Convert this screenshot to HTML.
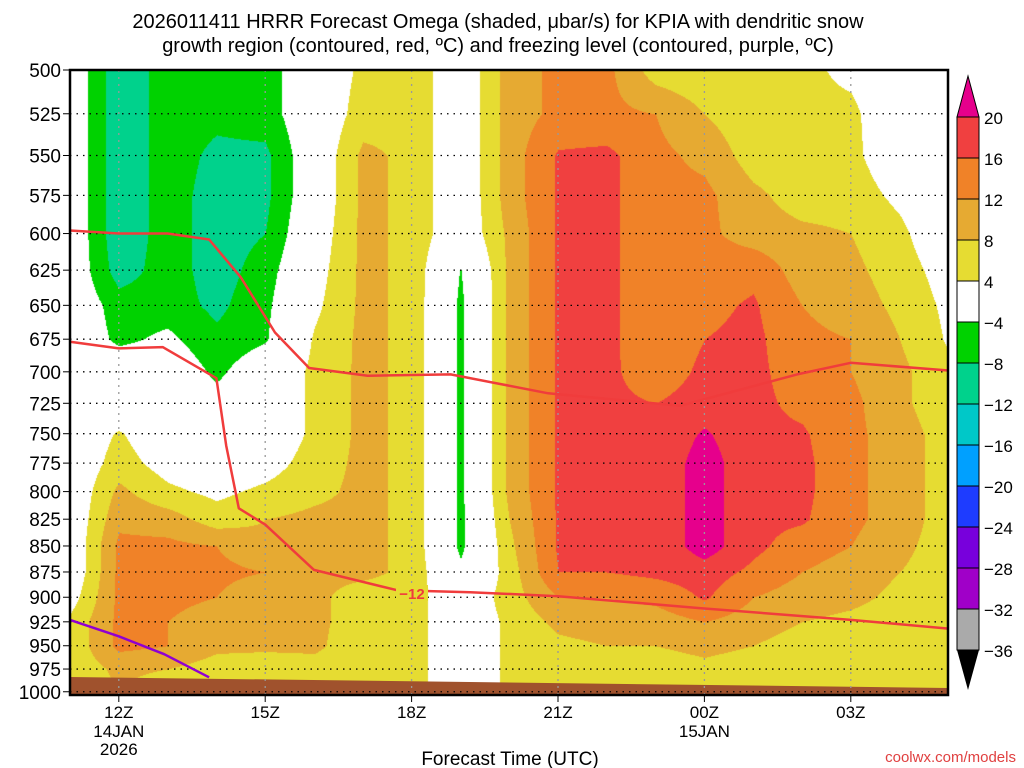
<!DOCTYPE html>
<html><head><meta charset="utf-8">
<style>
body{margin:0;background:#fff;width:1024px;height:768px;overflow:hidden;position:relative;font-family:"Liberation Sans",sans-serif;}
#cv{position:absolute;left:70px;top:70px;}
#ov{position:absolute;left:0;top:0;}
</style></head><body>
<canvas id="cv" width="878" height="622"></canvas>
<svg id="ov" width="1024" height="768">
<g font-size="20" text-anchor="middle" fill="#000">
<text x="498" y="28">2026011411 HRRR Forecast Omega (shaded, μbar/s) for KPIA with dendritic snow</text>
<text x="498" y="52">growth region (contoured, red, ºC) and freezing level (contoured, purple, ºC)</text>
</g>
<g id="grid"></g>
<g id="lines"></g>
<g id="axes"></g>
<g id="cbar"></g>
<text x="510" y="765" font-size="19" text-anchor="middle">Forecast Time (UTC)</text>
<text x="1016" y="762" font-size="15" text-anchor="end" fill="#e04040">coolwx.com/models</text>
</svg>
<script>
// times: hours after 11Z (0..18); levels: 500..1000 every 25 mb
const hours=[0,1,2,3,4,5,6,7,8,9,10,11,12,13,14,15,16,17,18];
const levels=[500,525,550,575,600,625,650,675,700,725,750,775,800,825,850,875,900,925,950,975,1000];
const omega=[
[0,0,0,0,0,0,0,0,0,0,0,0,0,0,0,0,2,5,5,5,5],
[-11,-11,-11,-11,-11,-10,-6,-5,0,0,4.5,6,9,11,13,13,13,13,13,9,8],
[-6,-6,-6,-6,-6,-6,-6,-3,0,0,0,2,5,10,13,13,13,12,12,8,5],
[-6,-7,-9,-10,-10,-10,-9,-7,-5,-2,0,0,3,6,12,13,12,10,9,6,5],
[-6,-6,-9,-9,-8,-6,-5,-4.5,0,0,0,2,5,8,9,12,9,9,9,5,5],
[0,0,0,0,1,2,3,4.5,5,5,5,6,7,9,9,9,9,9,9,6,5],
[5,6,9,9,9,9,9,9,9,9,9,9,9,9,9,9,6,6,5,5,5],
[7,7,7,7,7,7,7,7,7,7,7,7,7,7,7,7,6,6,6,6,6],
[0,0,0,0,0,-4.2,-5,-5,-5,-5,-5,-5,-5,-5,-5,-3,0,0,0,0,0],
[10,10,10,10,9,9,9,9,9,9,9,9,9,8,7,6,6,5,5,5,5],
[13,13,16.5,16.5,16.5,16.5,16.5,16.5,16.5,16.5,16.5,16.5,16.5,16.5,16.5,16,12,9,7,6,6],
[13,13,17,17,17,17,17,17,17,17,17,17,17,17,17,16,12,10,8,6,6],
[6,12,13,13,13,13,13,13,13.5,16,17,17,17,17,17,17,13,10,8,6,6],
[5,8,11,13,13,14,15,16,17,18,20.5,22,22,22,22,18,16.5,12,9,7,6],
[5,5,6,9,10,15,16.5,17,17,17,17,17,17,17,17,15,12,10,8,6,5],
[5,5,5,6,9,10,12,13,14,15,16.5,17,17,16.5,14,12,10,8,6,5,5],
[3,5,5,6,8,9,10,12,12,13,13,13,13,13,12,10,9,7,6,5,5],
[0,0,1,3,5,6,7,8,9,9,10,10,10,10,9,8,7,6,5,5,5],
[0,0,0,0,0,2,3,3.5,5,5,6,6,6,6,6,6,5,5,5,5,5]
];
const dgzUpper=[[0,598],[1,600],[2,600],[2.85,604],[3.5,630],[4.2,670],[4.9,697],[6.1,703],[7.8,702],[9.8,717],[12.5,727],[14.9,702],[16,693],[18,699]];
const dgzLower=[[0,677],[1,682],[1.9,681],[3,705],[3.2,760],[3.46,815],[4,830],[5,873],[6.7,893],[8.2,895],[10,899],[12.9,911],[16,923],[18,932]];
const freezing=[[0,923],[1,940],[1.93,959],[2.85,984]];
const xTickHours=[1,4,7,10,13,16];
const xTickLabels=["12Z","15Z","18Z","21Z","00Z","03Z"];
const cbLevels=[20,16,12,8,4,-4,-8,-12,-16,-20,-24,-28,-32,-36];
const cbColors=["#f04040","#f08228","#e6aa32","#e6dc32","#ffffff","#00d200","#00d28c","#00c8c8","#00a0ff","#1e3cff","#7800dc","#a000c8","#aaaaaa"];

const X=h=>70+h*48.8;
const Y=p=>70+897*Math.log(p/500);
function color(v){
  if(v>=20)return[230,0,140];if(v>=16)return[240,64,64];if(v>=12)return[240,130,40];
  if(v>=8)return[230,170,50];if(v>=4)return[230,220,50];if(v>-4)return[255,255,255];
  if(v>-8)return[0,210,0];if(v>-12)return[0,210,140];if(v>-16)return[0,200,200];
  if(v>-20)return[0,160,255];if(v>-24)return[30,60,255];if(v>-28)return[120,0,220];
  if(v>-32)return[160,0,200];if(v>-36)return[170,170,170];return[0,0,0];
}
const cv=document.getElementById('cv'),ctx=cv.getContext('2d');
const img=ctx.createImageData(878,622);
const nT=hours.length,nL=levels.length;
for(let py=0;py<622;py++){
  const p=500*Math.exp(py/897);
  let r=(p-levels[0])/(levels[1]-levels[0]);r=Math.min(Math.max(r,0),nL-1.0001);
  const r0=Math.floor(r),fr=r-r0;
  for(let px=0;px<878;px++){
    let h=px/48.8;h=Math.min(Math.max(h,0),nT-1.0001);
    const h0=Math.floor(h),fh=h-h0;
    const v=(omega[h0][r0]*(1-fh)+omega[h0+1][r0]*fh)*(1-fr)+(omega[h0][r0+1]*(1-fh)+omega[h0+1][r0+1]*fh)*fr;
    const c=color(v),i=(py*878+px)*4;
    img.data[i]=c[0];img.data[i+1]=c[1];img.data[i+2]=c[2];img.data[i+3]=255;
  }
}
ctx.putImageData(img,0,0);

const NS='http://www.w3.org/2000/svg';
function mk(tag,attrs,parent){const e=document.createElementNS(NS,tag);for(const k in attrs)e.setAttribute(k,attrs[k]);parent.appendChild(e);return e;}
const grid=document.getElementById('grid'),axes=document.getElementById('axes'),lines=document.getElementById('lines'),cbar=document.getElementById('cbar');
const gnd=mk('polygon',{points:'70,677 948,688 948,695 70,695',fill:'#a0522d'},grid);


levels.forEach(p=>{
  const y=Y(p);
  const l=mk('line',{x1:70,x2:948,y1:y,y2:y,stroke:'#000','stroke-width':1.3,'stroke-dasharray':'1.5 5'},grid);
  
  
  mk('line',{x1:63,x2:70,y1:y,y2:y,stroke:'#000','stroke-width':1},axes);
  const t=mk('text',{x:61,y:y+7,'font-size':19,'text-anchor':'end'},axes);t.textContent=p;
  
  
});
xTickHours.forEach((h,i)=>{
  const x=X(h);
  const l=mk('line',{x1:x,x2:x,y1:70,y2:695,stroke:'#999','stroke-width':1.3,'stroke-dasharray':'2 5'},grid);
  
  
  mk('line',{x1:x,x2:x,y1:695,y2:702,stroke:'#000'},axes);
  const t=mk('text',{x:x,y:718,'font-size':17,'text-anchor':'middle'},axes);t.textContent=xTickLabels[i];
  
  
});
[['14JAN',X(1),737],['2026',X(1),755],['15JAN',X(13),737]].forEach(d=>{
  const t=mk('text',{x:d[1],y:d[2],'font-size':17,'text-anchor':'middle'},axes);t.textContent=d[0];
  
  
});
function path(pts,col,name){
  const d=pts.map((q,i)=>(i?'L':'M')+X(q[0]).toFixed(1)+','+Y(q[1]).toFixed(1)).join(' ');
  const e=mk('path',{d:d,fill:'none',stroke:col,'stroke-width':2.5,'stroke-linejoin':'round'},lines);
  
  
}
path(dgzUpper,'#f03c3c','dgz-upper-contour');
path(dgzLower,'#f03c3c','dgz-lower-contour');
path(freezing,'#9000d0','freezing-level-contour');
const lbg=mk('rect',{x:396,y:585,width:32,height:16,fill:'#e6dc32'},lines);


const lb=mk('text',{x:412,y:599,'font-size':15,'font-weight':'bold','text-anchor':'middle',fill:'#f03c3c'},lines);lb.textContent='\u221212';


const fr=mk('rect',{x:70,y:70,width:878,height:625,fill:'none',stroke:'#000','stroke-width':2.5},axes);


const cbTop=117,step=41,cx0=957,cx1=979;
const tri=mk('polygon',{points:`${cx0},${cbTop} ${cx1},${cbTop} ${(cx0+cx1)/2},76`,fill:'#e6008c',stroke:'#000','stroke-width':1},cbar);


cbColors.forEach((c,i)=>{
  const r=mk('rect',{x:cx0,y:cbTop+i*step,width:cx1-cx0,height:step,fill:c,stroke:'#000','stroke-width':1},cbar);
  
  
});
const bot=cbTop+cbColors.length*step;
const tri2=mk('polygon',{points:`${cx0},${bot} ${cx1},${bot} ${(cx0+cx1)/2},${bot+40}`,fill:'#000'},cbar);


cbLevels.forEach((v,i)=>{
  const t=mk('text',{x:984,y:cbTop+i*step+7,'font-size':17},cbar);t.textContent=v<0?'\u2212'+(-v):String(v);
  
  
});
</script>
</body></html>
